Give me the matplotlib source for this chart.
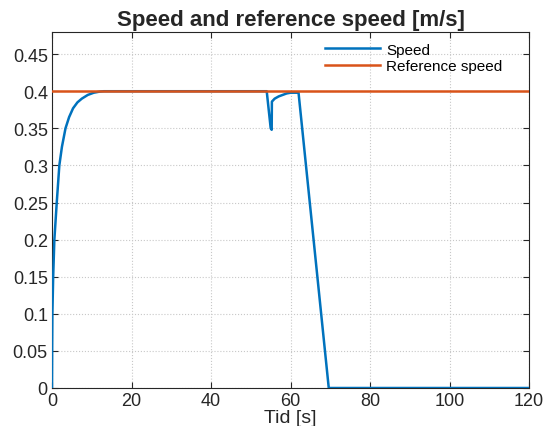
import numpy as np
import matplotlib
matplotlib.use("Agg")
import matplotlib.pyplot as plt

plt.rcParams['font.family'] = ['Liberation Sans', 'DejaVu Sans']

# speed samples (t [s], v [m/s])
tid = [0, 0.05, 0.1, 0.3, 0.6, 1.2, 1.85, 2.5, 3.4, 4.3, 5.3, 6.4, 7.5, 9, 10.5, 12, 13,
       54.0, 54.5, 55.0, 55.25, 55.3, 56, 57, 58, 59, 60, 61, 62, 69.6, 120]
speed = [0, 0.06, 0.1, 0.15, 0.2, 0.25, 0.3, 0.325, 0.35, 0.365, 0.377, 0.385, 0.39, 0.395, 0.398, 0.3995, 0.4,
         0.4, 0.375, 0.35, 0.348, 0.386, 0.39, 0.393, 0.395, 0.397, 0.398, 0.398, 0.398, 0.0, 0.0]
ref_tid = [0, 120]
ref_speed = [0.4, 0.4]

blue = '#0072BD'
orange = '#D95319'

fig = plt.figure(figsize=(5.46, 4.27), dpi=100)
ax = fig.add_axes([0.0952, 0.089, 0.874, 0.834])

ax.plot(tid, speed, color=blue, lw=1.8, label='Speed', zorder=3)
ax.plot(ref_tid, ref_speed, color=orange, lw=1.8, label='Reference speed', zorder=4)

ax.set_xlim(0, 120)
ax.set_ylim(0, 0.48)
ax.set_xticks(np.arange(0, 121, 20))
ax.set_yticks(np.arange(0, 0.46, 0.05))
ax.set_yticklabels(['0', '0.05', '0.1', '0.15', '0.2', '0.25', '0.3', '0.35', '0.4', '0.45'])

ax.grid(True, linestyle=':', color='#c8c8c8', linewidth=0.8)
ax.tick_params(direction='in', top=True, right=True, length=4, width=0.8,
               color='#262626', labelsize=13, labelcolor='#262626', pad=3)
for s in ax.spines.values():
    s.set_color('#262626')
    s.set_linewidth(0.8)

ax.set_title('Speed and reference speed [m/s]', fontsize=16, fontweight='bold',
             color='#262626', pad=5)
ax.set_xlabel('Tid [s]', fontsize=14, color='#262626', labelpad=0)

ax.legend(loc='upper left', bbox_to_anchor=(0.55, 1.0), frameon=False,
          fontsize=11, handlelength=3.6, handletextpad=0.4, labelspacing=0.15,
          borderaxespad=0.3)

fig.savefig('out.png', dpi=100)
